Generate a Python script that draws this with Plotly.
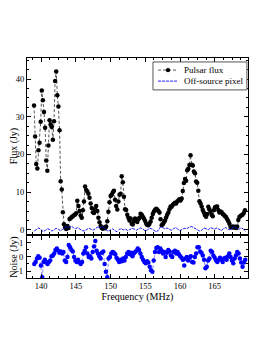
import numpy as np
import plotly.graph_objects as go

# ---------------- data ----------------
flux = [33.0, 24.8, 17.5, 16.3, 21.1, 23.1, 28.7, 37.0, 34.4, 31.3, 27.1, 18.4, 15.7, 22.4,
        29.1, 28.0, 27.3, 23.9, 28.8, 39.5, 42.0, 35.7, 32.7, 26.4, 12.9, 10.7, 4.7,
        1.5, 0.6, 0.2, 1.0, 0.5,
        2.9, 3.1, 3.4, 3.6, 3.9, 4.1, 4.4,
        7.7,
        6.3, 5.0, 3.8, 3.2, 5.2, 7.5,
        11.5,
        10.6, 10.2, 9.6, 8.5, 7.0, 5.8, 4.7, 4.5, 5.5, 6.3, 5.0, 3.2, 2.0,
        1.0, 0.5, 0.3, 0.6, 0.4, 0.9,
        2.3, 4.8, 7.3, 9.0, 9.3, 10.0, 10.4, 8.0, 6.3, 5.4, 7.5, 9.3, 9.6, 14.2, 12.6, 8.8,
        5.5, 5.3, 4.0, 3.2,
        2.5, 3.0, 1.6, 1.4, 2.3, 3.0, 2.7, 2.1, 2.8, 3.2, 4.3, 4.0, 3.5, 3.0, 2.4, 1.7,
        1.3, 1.2, 1.6, 2.2, 3.2, 4.2, 4.9, 5.3, 5.6, 5.4, 5.0, 4.6, 2.8, 1.2, 1.5,
        2.0, 2.5, 3.3, 4.0, 4.6, 5.5, 6.2, 6.1, 6.6, 6.9, 7.2, 7.0, 7.5, 7.8, 8.1, 7.8,
        8.3, 10.3, 12.4, 13.5, 13.0, 15.8, 16.2, 17.2, 19.8, 17.3, 17.1, 15.5, 15.0, 12.8,
        12.5, 10.4, 7.6, 7.0, 6.2, 5.3, 4.6, 3.9, 3.5, 4.2, 6.1, 5.5, 4.8, 4.0, 3.6, 5.2,
        6.0, 6.1, 6.2, 5.3, 4.6, 4.9, 4.7, 4.2, 4.0, 3.6, 3.4, 2.8, 2.3, 1.6, 0.8, 0.6,
        0.9, 0.6, 0.8, 0.5, 0.9, 2.6, 3.4, 3.7, 3.9, 4.1, 4.5, 5.2]
flux_start, flux_step = 138.96, 0.16  # channel grid (MHz)
freq = flux_start + flux_step * np.arange(len(flux))

offsource = [-0.3, 0.2, 0.5, 0.1, -0.4, -0.2, 0.3, 0.1, -0.3, 0.0, 0.4, 0.2, -0.2, 0.1,
             0.5, 0.9, 0.7, 1.0, 0.6, 0.3, 0.6, 0.2, -0.2,
             -0.3, 0.1, 0.4, 0.2, -0.1, 0.3, 0.7, 0.4, 1.0, 0.5, 0.0,
             -0.4, 0.0, 0.3, -0.2, -0.5, 0.1, 0.3, 0.0, 0.2, -0.2, 0.1, 0.4,
             0.2, -0.1, 0.3, 0.5, 0.2, -0.3, 0.0, 0.4, 0.3, -0.2, -0.5, -0.2,
             0.8, 0.6, 0.3, 0.5, 0.2, -0.1, 0.3, 0.6, 0.2, -0.2, 0.1, 0.4,
             0.3, 0.6, 0.9, 0.7, 0.4, 0.1, -0.3, -0.1, 0.5, 0.3, 0.0, 0.6,
             0.4, 0.2, 0.5, 0.1, -0.2, 0.3, 0.6, 0.2, 0.0, 0.5, 0.8, 0.4, 0.1, 0.5, 0.3, -0.4]
off_freq = np.linspace(139.0, 169.4, len(offsource))

noise = [-0.5, -0.35, -0.1, 0.05, -0.05, -0.6, -1.45, -0.35, -0.2, -0.4, -0.5, -0.35, -0.25,
         0.05, 0.1, 0.25, 0.5, 0.6, 0.45, 0.3, 0.4, 0.25, 0.35, -0.25, -0.35, 0.0, 0.85, 0.7,
         0.5, 0.4, 0.0, -0.25, -0.35, -0.2, -0.4, -0.5, -0.35, 0.25, 0.45, 0.7, 0.25, 0.0,
         0.05, -0.1, 0.35, 0.75, 1.15, 0.45, 0.25, 0.05, -0.1, 0.3, 0.4, -0.5, -1.05, -1.45,
         -0.1, 0.0, 0.25, 0.35, 0.3, 0.2, -0.05, -0.2, -0.35, -0.2, -0.3, -0.1, -0.25, 0.0,
         0.25, 0.35, 0.2, 0.3, 0.05, 0.25, 0.35, 0.45, 0.6, 0.5, 0.25, 0.0, -0.2, -0.35,
         -0.45, -0.3, -0.4, -0.7, -0.95, -1.05, -0.25, 0.35, 0.65, 0.7, 0.35, 0.6, 0.45,
         0.25, 0.35, 0.0, 0.3, 0.5, 0.4, 0.1, 0.0, 0.35, 0.45, 0.25, 0.35, 0.2, 0.05, -0.05,
         -0.2, -0.6, -0.1, 0.0, -0.25, -0.05, 0.05, -0.35, -0.4, 0.0, 0.25, 0.7, 0.7, 0.4,
         0.3, 0.1, -0.2, -0.8, -0.7, -0.25, -0.1, 0.45, 0.35, 0.1, -0.05, -0.25, -0.35,
         -0.2, -0.05, -0.2, -0.35, -0.1, -0.05, -0.2, 0.05, 0.25, 0.0, -0.25, -0.45, -0.1,
         0.1, 0.35, 0.25, -0.1, -0.4, -0.7, -0.4, -0.2]
noise_freq = np.linspace(139.0, 169.4, len(noise))

x_ticks = [140, 145, 150, 155, 160, 165]
flux_ticks = [0, 10, 20, 30, 40]
noise_ticks = [-1, 0, 1]
noise_tick_labels = ["-1", "0", "1"]
legend_labels = ["Pulsar flux", "Off-source pixel"]

# ---------------- figure ----------------
FONT = "Liberation Serif"
FLUX_LINE = "#444444"
BLUE = "#0000ff"
TICKFONT = dict(family=FONT, size=8.5, color="black")
fig = go.Figure()

fig.add_trace(go.Scatter(
    x=freq, y=flux, mode="lines+markers", name=legend_labels[0],
    line=dict(color=FLUX_LINE, width=0.9, dash="3px,2px"),
    marker=dict(color="black", size=4.5, symbol="circle"),
    xaxis="x", yaxis="y"))
fig.add_trace(go.Scatter(
    x=off_freq, y=offsource, mode="lines", name=legend_labels[1],
    line=dict(color=BLUE, width=0.9, dash="3px,1px"),
    xaxis="x", yaxis="y"))
fig.add_trace(go.Scatter(
    x=noise_freq, y=noise, mode="lines+markers", name="Noise",
    line=dict(color="#6a6aff", width=0.8, dash="3px,2px"),
    marker=dict(color=BLUE, size=4.5, symbol="circle"),
    xaxis="x2", yaxis="y2"))

axis_common = dict(showline=True, linecolor="black", linewidth=1, mirror="allticks",
                   ticks="inside", ticklen=4, tickwidth=0.8, tickcolor="black",
                   showgrid=False, zeroline=False, automargin=False,
                   tickfont=TICKFONT)

x_range = [137.95, 169.8]
# the html page has an 8px body margin, so the margins are shifted by 8px
fig.update_layout(
    width=260, height=337,
    margin=dict(l=19, r=20, t=50, b=67),
    paper_bgcolor="white", plot_bgcolor="white",
    font=dict(family=FONT, size=9, color="black"),
    showlegend=False,
    xaxis=dict(domain=[0, 1], range=x_range, anchor="y", tickvals=x_ticks,
               showticklabels=False,
               minor=dict(ticks="inside", ticklen=2, dtick=1.25, tick0=140, tickcolor="black"),
               **axis_common),
    yaxis=dict(domain=[0.2, 1], range=[-1.1, 45.6], anchor="x", tickvals=flux_ticks,
               title=dict(text="Flux (Jy)", font=dict(family=FONT, size=10), standoff=3),
               minor=dict(ticks="inside", ticklen=2, dtick=2.5, tick0=0, tickcolor="black"),
               **axis_common),
    xaxis2=dict(domain=[0, 1], range=x_range, anchor="y2", tickvals=x_ticks,
                title=dict(text="Frequency (MHz)", font=dict(family=FONT, size=10), standoff=1),
                minor=dict(ticks="inside", ticklen=2, dtick=1.25, tick0=140, tickcolor="black"),
                **axis_common),
    yaxis2=dict(domain=[0, 0.191], range=[-1.5, 1.5], anchor="x2",
                tickvals=noise_ticks, showticklabels=False,
                title=dict(text="Noise (Jy)", font=dict(family=FONT, size=10), standoff=12),
                minor=dict(ticks="inside", ticklen=2, dtick=0.5, tick0=0, tickcolor="black"),
                **axis_common),
)

# noise-axis tick labels placed at the y2 tick values
annotations = [dict(xref="paper", yref="y2", x=0, y=v, text=t, showarrow=False,
                    xanchor="right", yanchor="middle", xshift=-2, font=TICKFONT)
               for v, t in zip(noise_ticks, noise_tick_labels)]

# ---- legend box (drawn in paper coordinates, like the matplotlib legend) ----
lx0, lx1, ly0, ly1 = 0.570, 0.995, 0.855, 0.982
row_y = [0.945, 0.895]
seg_x0, seg_x1, txt_x = 0.593, 0.683, 0.702
shapes = [dict(type="rect", xref="paper", yref="paper", x0=lx0, x1=lx1, y0=ly0, y1=ly1,
               line=dict(color="#555555", width=1), fillcolor="white", layer="above")]
shapes.append(dict(type="line", xref="paper", yref="paper", x0=seg_x0, x1=seg_x1,
                   y0=row_y[0], y1=row_y[0], line=dict(color=FLUX_LINE, width=0.9, dash="3px,2px"),
                   layer="above"))
shapes.append(dict(type="circle", xref="paper", yref="paper", xsizemode="pixel", ysizemode="pixel",
                   xanchor=(seg_x0 + seg_x1) / 2, yanchor=row_y[0], x0=-2.2, x1=2.2, y0=-2.2, y1=2.2,
                   fillcolor="black", line=dict(color="black", width=0), layer="above"))
shapes.append(dict(type="line", xref="paper", yref="paper", x0=seg_x0, x1=seg_x1,
                   y0=row_y[1], y1=row_y[1], line=dict(color=BLUE, width=0.9, dash="3px,1px"),
                   layer="above"))
annotations += [dict(xref="paper", yref="paper", x=txt_x, y=ry, text=lab, showarrow=False,
                     xanchor="left", yanchor="middle", font=dict(family=FONT, size=9, color="black"))
                for ry, lab in zip(row_y, legend_labels)]
fig.update_layout(shapes=shapes, annotations=annotations)

fig.write_html("out.html")
